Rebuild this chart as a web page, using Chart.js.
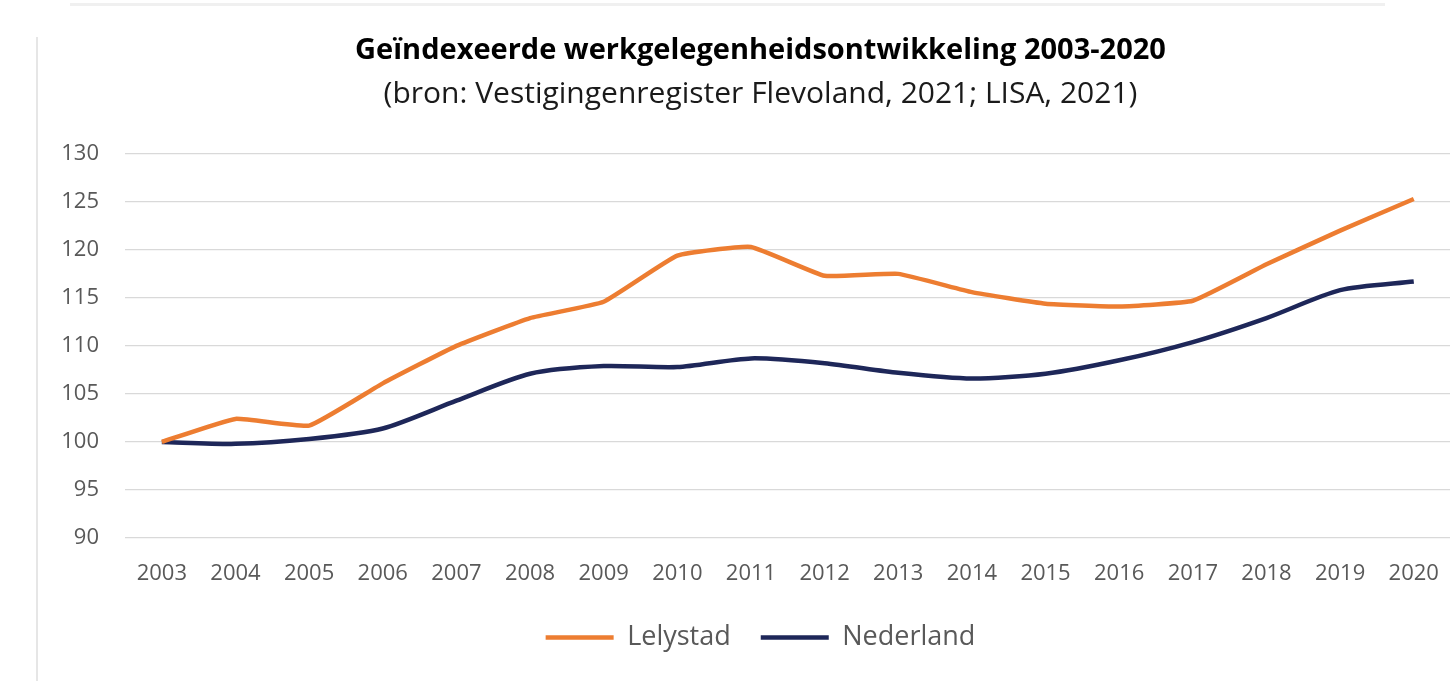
<!DOCTYPE html>
<html>
<head>
<meta charset="utf-8">
<script src="https://cdn.jsdelivr.net/npm/chart.js@4"></script>
<style>
  html, body { margin: 0; padding: 0; background: #fff; overflow: hidden; }
  #wrap { position: relative; width: 1462px; height: 681px; }
  #topline { position: absolute; left: 70px; top: 3px; width: 1315px; height: 3px; background: #f0f0f0; }
  #leftline { position: absolute; left: 36px; top: 37px; width: 2px; height: 644px; background: #e6e6e6; }
</style>
</head>
<body>
<div id="wrap">
  <canvas id="myChart" width="1462" height="681"></canvas>
  <div id="topline"></div>
  <div id="leftline"></div>
</div>
<script>
//setup
const years = ["2003", "2004", "2005", "2006", "2007", "2008", "2009", "2010", "2011",
  "2012", "2013", "2014", "2015", "2016", "2017", "2018", "2019", "2020"];
const lelystad = [100, 102.4, 101.7, 106.1, 110, 112.9, 114.6, 119.4, 120.3,
  117.3, 117.5, 115.6, 114.4, 114.1, 114.7, 118.5, 122, 125.3];
const nederland = [100, 99.8, 100.3, 101.4, 104.3, 107.1, 107.9, 107.8, 108.7,
  108.2, 107.2, 106.6, 107.1, 108.5, 110.4, 112.9, 115.8, 116.7];
const yTicks = [90, 95, 100, 105, 110, 115, 120, 125, 130];

const font = "'Open Sans', sans-serif";
const grey = "#595959";

const data = {
  labels: years,
  datasets: [
    {
      label: "Lelystad",
      data: lelystad,
      borderColor: "#ED7D31",
      backgroundColor: "#ED7D31",
      borderWidth: 4.5,
      pointRadius: 0,
      tension: 0.12,
    },
    {
      label: "Nederland",
      data: nederland,
      borderColor: "#1E2759",
      backgroundColor: "#1E2759",
      borderWidth: 4.5,
      pointRadius: 0,
      tension: 0.25,
    },
  ],
};

//config
const config = {
  type: "line",
  data: data,
  options: {
    responsive: false,
    animation: false,
    // left padding keeps the title and legend centred like the original
    layout: { padding: { left: 62, right: 3, bottom: 20 } },
    scales: {
      x: {
        offset: true,
        afterFit: (scale) => { scale.height = 56; },
        grid: { display: false, drawTicks: false },
        border: { display: false },
        ticks: { color: grey, font: { family: font, size: 22 }, padding: 23, maxRotation: 0 },
      },
      y: {
        min: 90,
        max: 130,
        afterFit: (scale) => { scale.width = 63; },
        afterBuildTicks: (scale) => { scale.ticks = yTicks.map((v) => ({ value: v })); },
        grid: { color: "#d9d9d9", lineWidth: 1.3, drawTicks: false },
        border: { display: false },
        ticks: { color: grey, font: { family: font, size: 22 }, padding: 26 },
      },
    },
    plugins: {
      title: {
        display: true,
        text: "Geïndexeerde werkgelegenheidsontwikkeling 2003-2020",
        color: "#000",
        font: { family: font, size: 29, weight: "bold" },
        padding: { top: 33, bottom: 4 },
      },
      subtitle: {
        display: true,
        text: "(bron: Vestigingenregister Flevoland, 2021; LISA, 2021)",
        color: "#1a1a1a",
        font: { family: font, size: 30 },
        padding: { top: 5, bottom: 41 },
      },
      legend: {
        display: true,
        position: "bottom",
        labels: {
          color: grey,
          font: { family: font, size: 27 },
          usePointStyle: true,
          pointStyle: "line",
          pointStyleWidth: 68,
          boxHeight: 27,
          padding: 30,
        },
      },
      tooltip: { enabled: false },
    },
  },
};

const myChart = new Chart(document.getElementById("myChart"), config);
</script>
</body>
</html>
